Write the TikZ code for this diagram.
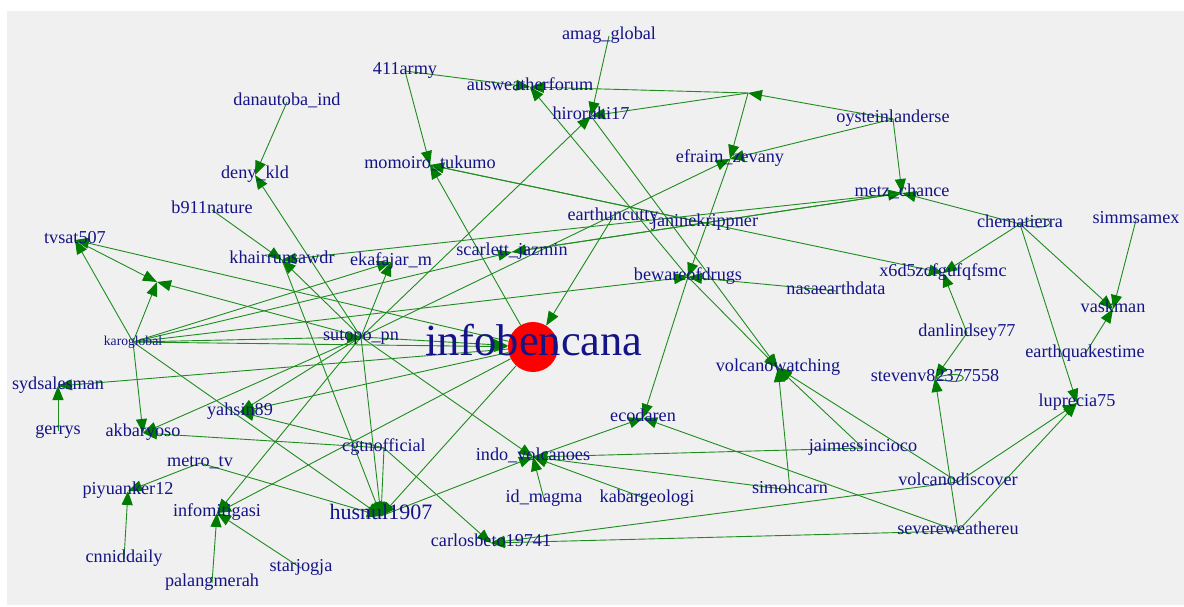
\documentclass[tikz,border=0pt]{standalone}
\usepackage{fontspec}
\setmainfont{Liberation Serif}
\usetikzlibrary{arrows.meta,backgrounds}
\definecolor{edgegreen}{RGB}{30,140,30}
\definecolor{tipgreen}{RGB}{0,125,0}
\definecolor{labelblue}{RGB}{20,20,135}
\definecolor{panel}{RGB}{240,240,240}
\begin{document}
\begin{tikzpicture}[x=1pt,y=-1pt,
  lbl/.style={text=labelblue,inner sep=0pt,font=\fontsize{18.2}{19}\selectfont,text height=0.62em,text depth=0pt},
  small/.style={lbl,font=\fontsize{13.6}{14}\selectfont},
  big/.style={lbl,font=\fontsize{22}{24}\selectfont},
  huge/.style={lbl,font=\fontsize{44.5}{46}\selectfont},
  edge/.style={draw=edgegreen,line width=0.9pt,-{Triangle[length=14pt,width=11pt,color=tipgreen]}},
  selfloop/.style={draw=edgegreen,line width=0.9pt}]
\useasboundingbox (0,0) rectangle (1184,607);

% vertices, each labelled at its own position
\node[lbl] (amag) at (609,36) {amag\_global};
\node[lbl] (a411) at (405,71) {411army};
\node[lbl] (ausw) at (530,87) {ausweatherforum};
\node[lbl] (hiro) at (591,116) {hiroruki17};
\coordinate (unl) at (748,93);
\node[lbl] (oyst) at (893,119) {oysteinlanderse};
\node[lbl] (efra) at (730,159) {efraim\_zevany};
\node[lbl] (momo) at (430,165) {momoiro\_tukumo};
\node[lbl] (dana) at (287,102) {danautoba\_ind};
\node[lbl] (deny) at (255,175) {deny\_kld};
\node[lbl] (metz) at (902,193) {metz\_chance};
\node[lbl] (b911) at (212,210) {b911nature};
\node[lbl] (earth) at (613,217) {earthuncutty};
\node[lbl] (jani) at (705,223) {janinekrippner};
\node[lbl] (chem) at (1020,224) {chematierra};
\node[lbl] (simm) at (1136,220) {simmsamex};
\node[lbl] (tvsa) at (75,240) {tvsat507};
\node[lbl] (khai) at (282,260) {khairrunsawdr};
\node[lbl] (ekaf) at (391,262) {ekafajar\_m};
\node[lbl] (scar) at (512,252) {scarlett\_jazmin};
\node[lbl] (bewa) at (688,277) {bewareofdrugs};
\node[lbl] (x6d5) at (943,273) {x6d5zcfgufqfsmc};
\node[lbl] (nasa) at (836,291) {nasaearthdata};
\coordinate (unl2) at (157,282);
\node[small] (karo) at (133,342) {karoglobal};
\node[lbl] (sutopo) at (361,337) {sutopo\_pn};
\node[lbl] (vask) at (1113,309) {vaskman};
\node[lbl] (danl) at (967,333) {danlindsey77};
\node[lbl] (eqt) at (1085,354) {earthquakestime};
\node[lbl] (volw) at (778,368) {volcanowatching};
\node[lbl] (stev) at (935,378) {stevenv82377558};
\node[lbl] (syds) at (58,386) {sydsalesman};
\node[lbl] (gerr) at (58,431) {gerrys};
\node[lbl] (akba) at (143,433) {akbaryoso};
\node[lbl] (yahs) at (240,412) {yahsin89};
\node[lbl] (ecod) at (643,418) {ecodaren};
\node[lbl] (lupr) at (1077,403) {luprecia75};
\node[lbl] (cgtn) at (384,448) {cgtnofficial};
\node[lbl] (jaim) at (863,448) {jaimessincioco};
\node[lbl] (indo) at (533,457) {indo\_volcanoes};
\node[lbl] (metr) at (200,463) {metro\_tv};
\node[lbl] (volcd) at (958,482) {volcanodiscover};
\node[lbl] (piyu) at (128,491) {piyuanker12};
\node[lbl] (simo) at (790,490) {simoncarn};
\node[lbl] (idma) at (544,499) {id\_magma};
\node[lbl] (kaba) at (647,499) {kabargeologi};
\node[lbl] (infm) at (217,513) {infomitigasi};
\node[big] (husn) at (381,516) {husnul1907};
\node[lbl] (seve) at (958,531) {severeweathereu};
\node[lbl] (carl) at (491,543) {carlosbeto19741};
\node[lbl] (cnni) at (124,559) {cnniddaily};
\node[lbl] (star) at (301,568) {starjogja};
\node[lbl] (pala) at (212,583) {palangmerah};

% the hub: red disc with its large label on top
\node[circle,fill=red,draw=none,minimum size=50pt,inner sep=0pt] (info) at (533,347) {};
\node[huge] (infolbl) at (534,352) {infobencana};

\begin{scope}[on background layer]
  \fill[white] (0,0) rectangle (1184,607);
  \fill[panel] (7,11) rectangle (1184,605);
  \foreach \s/\t in {amag/hiro, a411/ausw, a411/momo, unl/ausw, unl/hiro, oyst/unl,
      unl/efra, oyst/efra, oyst/metz, dana/deny, b911/khai, bewa/ausw, hiro/volw,
      sutopo/hiro, efra/bewa, sutopo/efra, momo/x6d5, jani/momo, metz/khai,
      scar/metz, metz/scar, chem/metz, chem/x6d5, chem/vask, chem/lupr, simm/vask,
      eqt/vask, danl/x6d5, danl/stev, seve/stev, seve/lupr, volcd/lupr, volcd/volw,
      jaim/volw, simo/volw, bewa/volw, bewa/ecod, karo/bewa, nasa/bewa, karo/tvsa,
      tvsa/unl2, karo/unl2, sutopo/unl2, karo/akba, sutopo/akba, cgtn/akba,
      gerr/syds, sutopo/yahs, cgtn/yahs, karo/husn, metr/husn, metr/piyu,
      cnni/piyu, pala/infm, star/infm, sutopo/infm, sutopo/husn, khai/husn,
      cgtn/husn, husn/indo, sutopo/indo, indo/ecod, seve/carl, volcd/carl,
      cgtn/carl, simo/indo, jaim/indo, kaba/indo, idma/indo, seve/ecod,
      karo/sutopo, sutopo/ekaf, karo/ekaf, sutopo/khai, sutopo/deny, karo/scar}
    \draw[edge] (\s.center) -- (\t.center);
  \foreach \s in {earth, karo, sutopo}
    \draw[edge] (\s.center) -- (info);
  \foreach \t in {momo, husn, infm, syds, yahs, tvsa}
    \draw[edge] (info) -- (\t.center);
  % self-references
  \draw[selfloop] (chem.center) .. controls +(40,-16) and +(40,12) .. (chem.center);
  \draw[selfloop] (stev.center) .. controls +(38,-12) and +(38,12) .. (stev.center);
\end{scope}
\end{tikzpicture}
\end{document}
